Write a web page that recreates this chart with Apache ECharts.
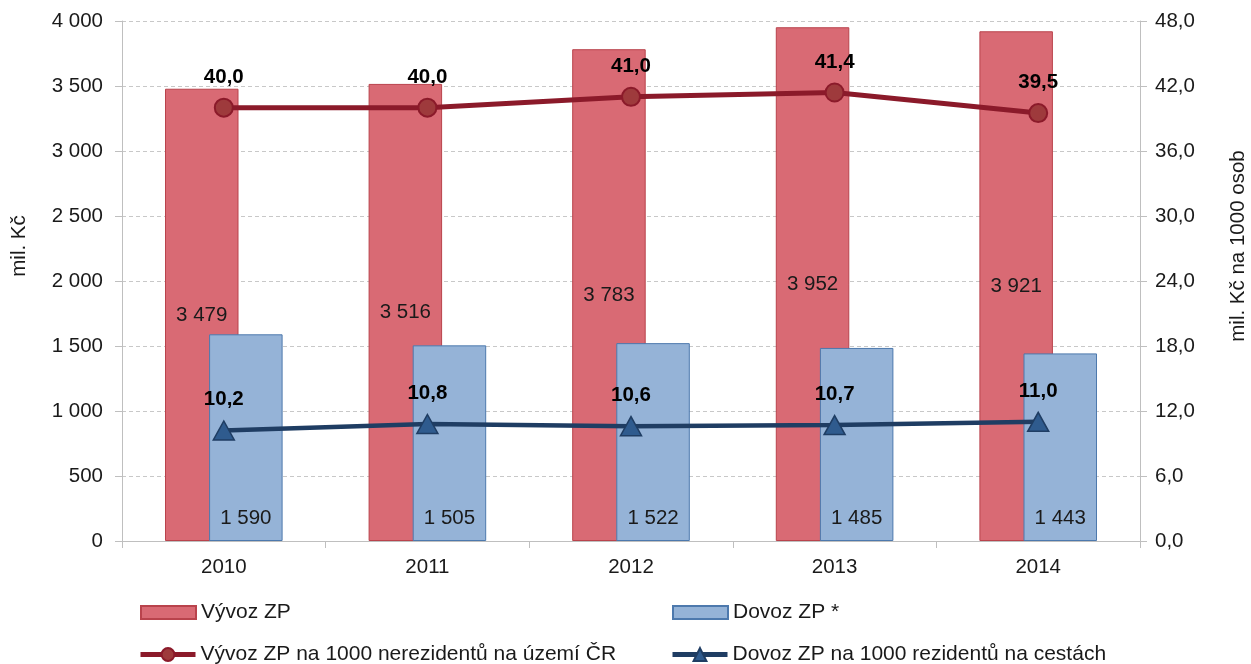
<!DOCTYPE html>
<html>
<head>
<meta charset="utf-8">
<script src="https://cdn.jsdelivr.net/npm/echarts@6/dist/echarts.min.js"></script>
<style>
  html, body { margin: 0; padding: 0; background: #fff; }
  #chart { width: 1251px; height: 664px; }
</style>
</head>
<body>
<div id="chart"></div>
<script>
// Years on the category axis
const years = ['2010', '2011', '2012', '2013', '2014'];
// Totals, mil. Kč (left axis)
const exportTotal = [3479, 3516, 3783, 3952, 3921];
const importTotal = [1590, 1505, 1522, 1485, 1443];
// Per 1000 persons, mil. Kč (right axis)
const exportPer1000 = [40.0, 40.0, 41.0, 41.4, 39.5];
const importPer1000 = [10.2, 10.8, 10.6, 10.7, 11.0];
// Series and axis titles
const seriesNames = [
  'Vývoz ZP',
  'Dovoz ZP *',
  'Vývoz ZP na 1000 nerezidentů na území ČR',
  'Dovoz ZP na 1000 rezidentů na cestách'
];
const leftAxisTitle = 'mil. Kč';
const rightAxisTitle = 'mil. Kč na 1000 osob';

const FONT = "'Liberation Sans', Arial, sans-serif";
const FS = 20.5;
const FS_LEGEND = 21;
const TXT = '#1a1a1a';

// Czech number formats: space as thousands separator, comma as decimal mark
const fmtInt = v => String(Math.round(v)).replace(/\B(?=(\d{3})+(?!\d))/g, ' ');
const fmtDec = v => Number(v).toFixed(1).replace('.', ',');

const chart = echarts.init(document.getElementById('chart'), null, { renderer: 'canvas' });

const legendBase = {
  itemWidth: 55,
  itemHeight: 13,
  textStyle: { fontFamily: FONT, fontSize: FS_LEGEND, color: TXT },
  selectedMode: false
};

const option = {
  animation: false,
  backgroundColor: '#ffffff',
  textStyle: { fontFamily: FONT },
  grid: { left: 122, right: 111, top: 21, bottom: 123, containLabel: false },
  legend: [
    Object.assign({}, legendBase, { data: [{ name: seriesNames[0], icon: 'rect' }], left: 135, top: 597 }),
    Object.assign({}, legendBase, { data: [{ name: seriesNames[1], icon: 'rect' }], left: 667, top: 597 }),
    Object.assign({}, legendBase, { data: [seriesNames[2]], left: 133, top: 639, itemHeight: 16, lineStyle: { width: 5 } }),
    Object.assign({}, legendBase, { data: [seriesNames[3]], left: 665, top: 639, itemHeight: 16, lineStyle: { width: 5 } })
  ],
  xAxis: {
    type: 'category',
    data: years,
    axisLine: { lineStyle: { color: '#BFBFBF', width: 1 } },
    axisTick: { show: true, length: 7, lineStyle: { color: '#BFBFBF' } },
    axisLabel: { fontFamily: FONT, fontSize: FS, color: TXT, margin: 16 },
    splitLine: { show: false }
  },
  yAxis: [
    {
      type: 'value',
      min: 0, max: 4000, interval: 500,
      axisLine: { show: true, lineStyle: { color: '#BFBFBF', width: 1 } },
      axisTick: { show: true, length: 7, lineStyle: { color: '#BFBFBF' } },
      axisLabel: { fontFamily: FONT, fontSize: FS, color: TXT, margin: 19, formatter: fmtInt },
      splitLine: { show: true, lineStyle: { color: '#C8C8C8', type: [4, 3], width: 1 } }
    },
    {
      type: 'value',
      min: 0, max: 48, interval: 6,
      position: 'right',
      axisLine: { show: true, lineStyle: { color: '#BFBFBF', width: 1 } },
      axisTick: { show: true, length: 7, lineStyle: { color: '#BFBFBF' } },
      axisLabel: { fontFamily: FONT, fontSize: FS, color: TXT, margin: 15, formatter: fmtDec },
      splitLine: { show: false }
    }
  ],
  graphic: [
    {
      type: 'text', x: 19, y: 246, rotation: Math.PI / 2,
      style: { text: leftAxisTitle, font: FS + 'px ' + FONT, fill: TXT, align: 'center', verticalAlign: 'middle' }
    },
    {
      type: 'text', x: 1238, y: 246, rotation: Math.PI / 2,
      style: { text: rightAxisTitle, font: FS + 'px ' + FONT, fill: TXT, align: 'center', verticalAlign: 'middle' }
    }
  ],
  series: [
    {
      name: seriesNames[0],
      type: 'bar',
      yAxisIndex: 0,
      data: exportTotal,
      barWidth: 73.5,
      barGap: '-40%',
      itemStyle: { color: '#D96A74', borderColor: '#B9434C', borderWidth: 1 },
      label: {
        show: true, position: 'inside',
        fontFamily: FONT, fontSize: FS, color: TXT,
        formatter: p => fmtInt(p.value)
      },
      z: 2
    },
    {
      name: seriesNames[1],
      type: 'bar',
      yAxisIndex: 0,
      data: importTotal,
      barWidth: 73.5,
      barGap: '-40%',
      itemStyle: { color: '#95B3D7', borderColor: '#4D79AD', borderWidth: 1 },
      label: {
        show: true, position: 'insideBottom', distance: 12,
        fontFamily: FONT, fontSize: FS, color: TXT,
        formatter: p => fmtInt(p.value)
      },
      z: 3
    },
    {
      name: seriesNames[2],
      type: 'line',
      yAxisIndex: 1,
      data: exportPer1000,
      symbol: 'circle',
      symbolSize: 18,
      lineStyle: { color: '#8B1A2A', width: 5 },
      itemStyle: { color: '#9E3A3C', borderColor: '#8B1A2A', borderWidth: 2 },
      label: {
        show: true, position: 'top', distance: 10,
        fontFamily: FONT, fontSize: FS, fontWeight: 'bold', color: '#000',
        formatter: p => fmtDec(p.value)
      },
      z: 5
    },
    {
      name: seriesNames[3],
      type: 'line',
      yAxisIndex: 1,
      data: importPer1000,
      symbol: 'triangle',
      symbolSize: [21, 19],
      lineStyle: { color: '#1F3D63', width: 4.5 },
      itemStyle: { color: '#2F5B8E', borderColor: '#1F3D63', borderWidth: 1.5 },
      label: {
        show: true, position: 'top', distance: 10,
        fontFamily: FONT, fontSize: FS, fontWeight: 'bold', color: '#000',
        formatter: p => fmtDec(p.value)
      },
      z: 5
    }
  ]
};

chart.setOption(option);
</script>
</body>
</html>
